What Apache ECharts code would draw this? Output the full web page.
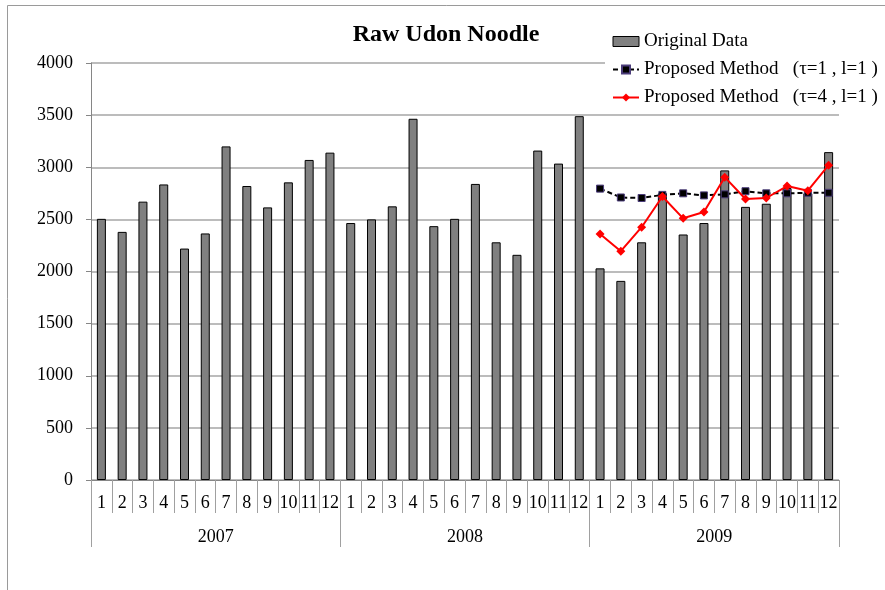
<!DOCTYPE html>
<html>
<head>
<meta charset="utf-8">
<script src="https://cdn.jsdelivr.net/npm/echarts@6/dist/echarts.min.js"></script>
<style>
  html, body { margin: 0; padding: 0; background: #fff; }
  #chart { width: 885px; height: 590px; }
</style>
</head>
<body>
<div id="chart"></div>
<script>
// Monthly sales of raw udon noodle, 2007-2009, with two forecast series for 2009
const years = ['2007', '2008', '2009'];
const monthLabels = ['1','2','3','4','5','6','7','8','9','10','11','12'];

const original2007 = [2505, 2380, 2670, 2835, 2220, 2365, 3200, 2820, 2615, 2855, 3070, 3140];
const original2008 = [2465, 2500, 2625, 3465, 2435, 2505, 2840, 2280, 2160, 3160, 3035, 3490];
const original2009 = [2030, 1910, 2280, 2750, 2355, 2465, 2970, 2620, 2650, 2800, 2750, 3145];

const proposedTau1 = [2795, 2710, 2705, 2735, 2750, 2730, 2740, 2770, 2750, 2750, 2755, 2755];
const proposedTau4 = [2360, 2195, 2425, 2720, 2510, 2570, 2905, 2695, 2705, 2820, 2775, 3020];

const yTicks = { min: 0, max: 4000, step: 500 };

const categories = [];
years.forEach(y => monthLabels.forEach(m => categories.push(y + '-' + m)));
const originalData = original2007.concat(original2008, original2009);
const pad = new Array(24).fill(null);
const tau1Data = pad.concat(proposedTau1);
const tau4Data = pad.concat(proposedTau4);

const serif = '"Liberation Serif", "DejaVu Serif", serif';
const chart = echarts.init(document.getElementById('chart'));

chart.setOption({
  animation: false,
  backgroundColor: '#fff',
  textStyle: { fontFamily: serif },
  title: {
    text: 'Raw Udon Noodle',
    left: 441,
    textAlign: 'center',
    top: 18,
    textStyle: { fontFamily: serif, fontSize: 24, fontWeight: 'bold', color: '#000' }
  },
  legend: {
    orient: 'vertical',
    left: 605,
    top: 27,
    padding: [5, 7, 3, 7],
    backgroundColor: '#fff',
    itemWidth: 26,
    itemHeight: 10,
    itemGap: 9,
    textStyle: { fontFamily: serif, fontSize: 19, color: '#000' },
    data: [
      { name: 'Original Data', icon: 'rect', itemStyle: { color: '#808080', borderColor: '#000', borderWidth: 1 } },
      { name: 'Proposed Method   (τ=1 , l=1 )' },
      { name: 'Proposed Method   (τ=4 , l=1 )' }
    ]
  },
  graphic: [{
    type: 'rect',
    shape: { x: 7.5, y: 5.5, width: 900, height: 600 },
    style: { fill: 'none', stroke: '#9a9a9a', lineWidth: 1 },
    silent: true,
    z: -1
  }],
  grid: { left: 91, right: 46, top: 63, bottom: 110, containLabel: false },
  xAxis: [
    {
      type: 'category',
      data: categories,
      boundaryGap: true,
      axisLine: { show: true, lineStyle: { color: '#868686', width: 1 } },
      axisTick: { show: true, interval: 0, length: 33, lineStyle: { color: '#a0a0a0' } },
      axisLabel: {
        interval: 0,
        margin: 14,
        fontFamily: serif,
        fontSize: 18,
        color: '#000',
        formatter: v => v.split('-')[1]
      },
      splitLine: { show: false }
    },
    {
      type: 'category',
      data: years,
      position: 'bottom',
      offset: 0,
      boundaryGap: true,
      axisLine: { show: false },
      axisTick: { show: true, interval: 0, length: 67, lineStyle: { color: '#a0a0a0' } },
      axisLabel: { interval: 0, margin: 48, fontFamily: serif, fontSize: 18, color: '#000' },
      splitLine: { show: false }
    }
  ],
  yAxis: {
    type: 'value',
    min: yTicks.min,
    max: yTicks.max,
    interval: yTicks.step,
    axisLine: { show: true, lineStyle: { color: '#868686', width: 1 } },
    axisTick: { show: true, length: 5, lineStyle: { color: '#868686' } },
    axisLabel: { margin: 18, fontFamily: serif, fontSize: 18, color: '#000', formatter: v => String(v) },
    splitLine: { show: true, lineStyle: { color: '#a6a6a6', width: 1.5 } }
  },
  series: [
    {
      name: 'Original Data',
      type: 'bar',
      xAxisIndex: 0,
      data: originalData,
      barWidth: 9,
      itemStyle: { color: '#808080', borderColor: '#000', borderWidth: 1 },
      z: 2
    },
    {
      name: 'Proposed Method   (τ=1 , l=1 )',
      type: 'line',
      xAxisIndex: 0,
      data: tau1Data,
      symbol: 'rect',
      symbolSize: 7,
      showSymbol: true,
      lineStyle: { color: '#000', width: 2, type: [5, 3] },
      itemStyle: { color: '#000', borderColor: '#4b3c7a', borderWidth: 1 },
      z: 3
    },
    {
      name: 'Proposed Method   (τ=4 , l=1 )',
      type: 'line',
      xAxisIndex: 0,
      data: tau4Data,
      symbol: 'diamond',
      symbolSize: 9,
      showSymbol: true,
      lineStyle: { color: '#ff0000', width: 2 },
      itemStyle: { color: '#ff0000' },
      z: 4
    }
  ]
});
</script>
</body>
</html>
